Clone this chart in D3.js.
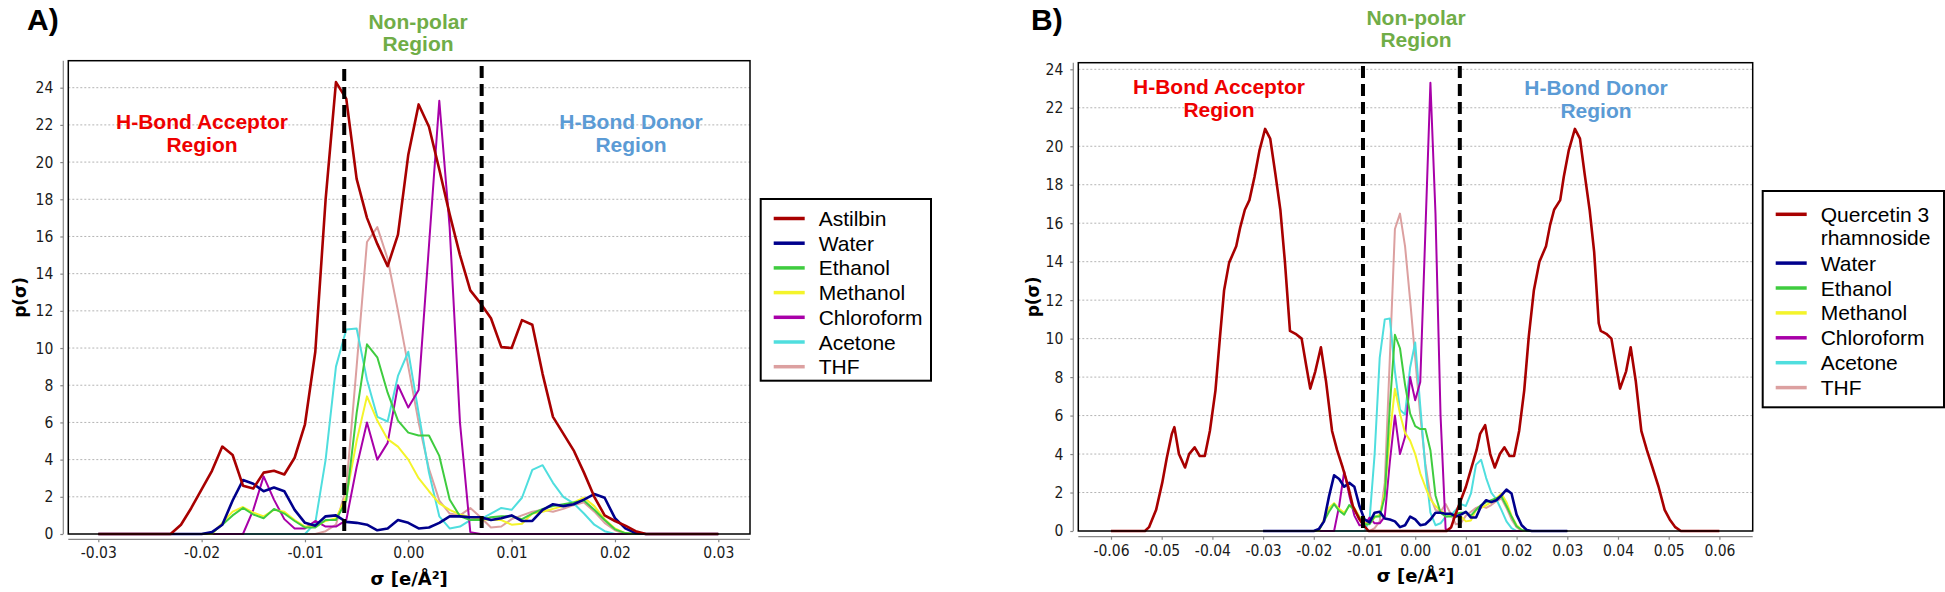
<!DOCTYPE html>
<html><head><meta charset="utf-8">
<script src="https://cdn.jsdelivr.net/npm/d3@7"></script>
<style>body{margin:0;background:#fff}svg{display:block}</style>
</head><body>
<svg id="c" width="1945" height="592"></svg>
<script>
// ---------------- DATA ----------------
const sigmaGrid = [-0.030,-0.029,-0.028,-0.027,-0.026,-0.025,-0.024,-0.023,-0.022,-0.021,
 -0.020,-0.019,-0.018,-0.017,-0.016,-0.015,-0.014,-0.013,-0.012,-0.011,
 -0.010,-0.009,-0.008,-0.007,-0.006,-0.005,-0.004,-0.003,-0.002,-0.001,
 0.000,0.001,0.002,0.003,0.004,0.005,0.006,0.007,0.008,0.009,
 0.010,0.011,0.012,0.013,0.014,0.015,0.016,0.017,0.018,0.019,
 0.020,0.021,0.022,0.023,0.024,0.025,0.026,0.027,0.028,0.029,0.030];

const astilbin = [0,0,0,0,0,0,0,0,0.5,1.4,
 2.4,3.4,4.7,4.25,2.6,2.45,3.3,3.4,3.2,4.1,
 5.9,9.8,18.0,24.3,23.4,19.1,17.0,15.6,14.4,16.1,
 20.4,23.1,21.9,19.6,17.2,15.0,13.1,12.4,11.6,10.05,
 10.0,11.5,11.25,8.6,6.3,5.4,4.5,3.3,2.0,1.0,
 0.7,0.45,0.15,0,0,0,0,0,0,0,0];

const water = [0,0,0,0,0,0,0,0,0,0,
 0,0.1,0.5,1.8,2.9,2.7,2.3,2.5,2.3,1.3,
 0.6,0.45,0.95,1.0,0.65,0.6,0.5,0.2,0.3,0.75,
 0.6,0.3,0.35,0.6,0.95,0.95,0.9,0.9,0.75,0.85,
 1.0,0.7,0.7,1.3,1.6,1.5,1.6,1.85,2.15,1.95,
 0.85,0.3,0.05,0,0,0,0,0,0,0,0];

const ethanol = [0,0,0,0,0,0,0,0,0,0,
 0,0.05,0.5,1.0,1.4,1.05,0.85,1.35,1.1,0.7,
 0.35,0.35,0.75,0.75,1.8,6.5,10.2,9.5,7.6,6.1,
 5.45,5.3,5.3,4.2,1.85,0.95,0.75,0.75,0.9,0.95,
 0.95,0.8,1.1,1.35,1.5,1.6,1.7,1.8,1.3,0.75,
 0.25,0.05,0,0,0,0,0,0,0,0,0];

const methanol = [0,0,0,0,0,0,0,0,0,0,
 0,0,0.6,1.2,1.45,1.15,0.95,1.3,1.2,0.75,
 0.4,0.4,0.7,0.85,2.0,5.0,7.4,6.1,5.1,4.7,
 4.0,3.0,2.3,1.65,1.3,1.05,0.9,0.8,0.75,0.75,
 0.5,0.55,1.1,1.2,1.35,1.5,1.7,1.95,1.5,0.8,
 0.3,0.05,0,0,0,0,0,0,0,0,0];

const chloroform = [0,0,0,0,0,0,0,0,0,0,
 0,0,0,0,0,1.3,3.1,1.85,0.8,0.3,
 0.3,0.7,0.4,0.4,0.75,3.6,6.0,4.0,4.9,8.0,
 6.8,7.75,15.5,23.3,16.5,6.0,0.1,0,0,0,
 0,0,0,0,0,0,0,0,0,0,
 0,0,0,0,0,0,0,0,0,0,0];

const acetone = [0,0,0,0,0,0,0,0,0,0,
 0,0,0,0,0,0,0,0,0,0,
 0,0.6,4.0,9.0,11.0,11.05,8.3,6.3,6.05,8.5,
 9.8,6.5,3.3,0.95,0.3,0.4,0.75,0.8,1.1,1.4,
 1.3,1.95,3.45,3.7,2.75,2.0,1.65,1.1,0.5,0.15,
 0,0,0,0,0,0,0,0,0,0,0];

const thf = [0,0,0,0,0,0,0,0,0,0,
 0,0,0,0,0,0,0,0,0,0,
 0,0,0.15,0.5,2.5,9.0,15.7,16.5,14.8,12.0,
 9.0,6.0,3.5,1.8,1.1,1.0,1.4,0.9,0.35,0.4,
 0.8,1.0,1.2,1.3,1.2,1.35,1.55,1.7,1.2,0.6,
 0.2,0,0,0,0,0,0,0,0,0,0];

// Quercetin 3 rhamnoside (panel B), vertices
const sigmaQuercetin = [-0.0600,-0.0533,-0.0525,-0.0511,-0.0499,-0.0490,-0.0480,-0.0475,-0.0466,-0.0454,
 -0.0446,-0.0435,-0.0425,-0.0415,-0.0405,-0.0394,-0.0385,-0.0377,-0.0367,-0.0353,
 -0.0345,-0.0336,-0.0327,-0.0317,-0.0307,-0.0296,-0.0286,-0.0276,-0.0266,-0.0257,
 -0.0247,-0.0236,-0.0224,-0.0215,-0.0207,-0.0197,-0.0186,-0.0176,-0.0164,-0.0154,
 -0.0143,-0.0132,-0.0123,-0.0111,-0.0102,-0.0092,
 0.0062,0.0071,0.0080,0.0090,0.0100,0.0111,0.0121,0.0128,0.0138,0.0148,
 0.0157,0.0167,0.0176,0.0186,0.0195,0.0205,0.0215,0.0224,0.0234,0.0245,
 0.0258,0.0266,0.0274,0.0286,0.0293,0.0303,0.0315,0.0325,0.0334,0.0344,
 0.0353,0.0362,0.0366,0.0377,0.0387,0.0396,0.0404,0.0416,0.0425,0.0435,
 0.0446,0.0457,0.0468,0.0480,0.0492,0.0502,0.0513,0.0524,0.0600];
const quercetin = [0,0,0.2,1.1,2.5,3.8,5.05,5.4,4.0,3.3,
 4.0,4.35,3.9,3.9,5.2,7.3,10.1,12.5,13.95,14.8,
 15.8,16.7,17.2,18.4,19.8,20.9,20.4,18.6,16.7,14.0,
 10.4,10.25,10.0,8.6,7.4,8.3,9.55,7.8,5.2,4.2,
 3.3,2.3,1.3,0.65,0.3,0,
 0,0.2,0.9,1.6,2.3,3.3,4.2,5.05,5.5,4.0,
 3.3,4.0,4.35,3.9,3.9,5.2,7.3,10.1,12.5,14.0,
 14.8,15.9,16.7,17.2,18.4,19.8,20.9,20.4,18.6,16.7,
 14.5,10.8,10.4,10.25,10.0,8.6,7.4,8.3,9.55,7.8,
 5.2,4.2,3.3,2.3,1.1,0.6,0.2,0,0];

const solventNames = ["Water","Ethanol","Methanol","Chloroform","Acetone","THF"];
const solventValues = [water, ethanol, methanol, chloroform, acetone, thf];
const solventColors = ["#00008c","#3fcc3f","#f4f42a","#a800a8","#4fdede","#dca0a0"];
const soluteColor = "#a80000";

const yTicks = [0,2,4,6,8,10,12,14,16,18,20,22,24];
const xTicksA = [-0.03,-0.02,-0.01,0.00,0.01,0.02,0.03];
const xTickLabelsA = ["-0.03","-0.02","-0.01","0.00","0.01","0.02","0.03"];
const xTicksB = [-0.06,-0.05,-0.04,-0.03,-0.02,-0.01,0.00,0.01,0.02,0.03,0.04,0.05,0.06];
const xTickLabelsB = ["-0.06","-0.05","-0.04","-0.03","-0.02","-0.01","0.00","0.01","0.02","0.03","0.04","0.05","0.06"];
const regionBoundsA = [-0.0062, 0.0071];
const regionBoundsB = [-0.0103, 0.0088];

// ---------------- DRAW ----------------
const svg = d3.select("#c");
const tickFont = "'DejaVu Sans Condensed', 'DejaVu Sans', sans-serif";
const titleFont = "'DejaVu Sans', sans-serif";
const annFont = "'Liberation Sans', Arial, sans-serif";

function drawPanel(cfg) {
  const g = svg.append("g");
  const x = d3.scaleLinear().domain(cfg.xDomain).range(cfg.xRange);
  const y = d3.scaleLinear().domain([0, 24]).range(cfg.yRange);
  const fl = cfg.frameLeft, fr = cfg.frameRight, ft = cfg.frameTop, fb = y(0);

  // grid
  g.append("g").selectAll("line").data(yTicks.filter(v => v > 0)).join("line")
    .attr("x1", fl).attr("x2", fr).attr("y1", d => y(d)).attr("y2", d => y(d))
    .attr("stroke", "#b4b4b4").attr("stroke-width", 1).attr("stroke-dasharray", "2,2");

  // y axis
  const ya = g.append("g").attr("transform", `translate(${cfg.yAxisX},0)`)
    .call(d3.axisLeft(y).tickValues(yTicks).tickSize(3).tickPadding(7).tickFormat(d3.format("d")));
  ya.select(".domain").remove();
  ya.append("line").attr("x1", 0).attr("x2", 0).attr("y1", ft).attr("y2", fb).attr("stroke", "#888").attr("stroke-width", 1.2);
  ya.selectAll(".tick line").attr("stroke", "#888").attr("stroke-width", 1.2);
  ya.selectAll(".tick text").attr("font-family", tickFont).attr("font-size", 15.5).attr("fill", "#1a1a1a");

  // x axis
  const xa = g.append("g").attr("transform", `translate(0,${cfg.xAxisY})`)
    .call(d3.axisBottom(x).tickValues(cfg.xTicks).tickSize(3).tickPadding(5)
      .tickFormat((d, i) => cfg.xTickLabels[i]));
  xa.select(".domain").remove();
  xa.append("line").attr("x1", fl).attr("x2", fr).attr("y1", 0).attr("y2", 0).attr("stroke", "#888").attr("stroke-width", 1.2);
  xa.selectAll(".tick line").attr("stroke", "#888").attr("stroke-width", 1.2);
  xa.selectAll(".tick text").attr("font-family", tickFont).attr("font-size", 15.5).attr("fill", "#1a1a1a");

  // series (reverse legend order so the solute ends on top)
  const series = cfg.series.slice().reverse();
  g.append("g").selectAll("path").data(series).join("path")
    .attr("fill", "none")
    .attr("stroke", d => d.color)
    .attr("stroke-width", d => d.width)
    .attr("stroke-linejoin", "round")
    .attr("d", d => d3.line().x((v, i) => x(d.sigma[i])).y(v => y(v))(d.values));

  // frame
  g.append("rect").attr("x", fl).attr("y", ft).attr("width", fr - fl).attr("height", fb - ft)
    .attr("fill", "none").attr("stroke", "#000").attr("stroke-width", 1.5);

  // region boundaries
  g.append("g").selectAll("line").data(cfg.bounds).join("line")
    .attr("x1", d => x(d)).attr("x2", d => x(d))
    .attr("y1", (d, i) => cfg.boundTop[i]).attr("y2", fb)
    .attr("stroke", "#000").attr("stroke-width", 4).attr("stroke-dasharray", "12,6");

  // axis titles
  g.append("text").attr("x", (fl + fr) / 2).attr("y", cfg.xTitleY)
    .attr("text-anchor", "middle").attr("dominant-baseline", "central")
    .attr("font-family", titleFont).attr("font-weight", "bold").attr("font-size", 18)
    .text("σ [e/Å²]");
  g.append("text").attr("transform", `translate(${cfg.yTitleX},${(ft + fb) / 2}) rotate(-90)`)
    .attr("text-anchor", "middle").attr("dominant-baseline", "central")
    .attr("font-family", titleFont).attr("font-weight", "bold").attr("font-size", 17)
    .text("p(σ)");

  // panel letter
  g.append("text").attr("x", cfg.letterX).attr("y", 30)
    .attr("font-family", annFont).attr("font-weight", "bold").attr("font-size", 30)
    .text(cfg.letter);

  // region annotations
  const ann = (txt, cx, cy, col) => g.append("text").attr("x", cx).attr("y", cy)
    .attr("text-anchor", "middle").attr("dominant-baseline", "central")
    .attr("font-family", annFont).attr("font-weight", "bold").attr("font-size", 21)
    .attr("fill", col).text(txt);
  ann("Non-polar", cfg.np[0], cfg.np[1], "#70ad47");
  ann("Region", cfg.np[0], cfg.np[1] + 22, "#70ad47");
  ann("H-Bond Acceptor", cfg.acc[0], cfg.acc[1], "#ee0000");
  ann("Region", cfg.acc[0], cfg.acc[1] + 23, "#ee0000");
  ann("H-Bond Donor", cfg.don[0], cfg.don[1], "#5b9bd5");
  ann("Region", cfg.don[0], cfg.don[1] + 23, "#5b9bd5");

  // legend
  const lg = g.append("g");
  lg.append("rect").attr("x", cfg.legend.x).attr("y", cfg.legend.y)
    .attr("width", cfg.legend.w).attr("height", cfg.legend.h)
    .attr("fill", "#fff").attr("stroke", "#000").attr("stroke-width", 2);
  let rowY = cfg.legend.firstRow;
  cfg.series.forEach(s => {
    lg.append("line").attr("x1", cfg.legend.x + 13).attr("x2", cfg.legend.x + 44)
      .attr("y1", rowY).attr("y2", rowY).attr("stroke", s.color).attr("stroke-width", 3.5);
    s.label.forEach((t, k) => {
      lg.append("text").attr("x", cfg.legend.x + 58).attr("y", rowY + k * 23.5)
        .attr("dominant-baseline", "central").attr("font-family", annFont)
        .attr("font-size", 21).attr("fill", "#000").text(t);
    });
    rowY += cfg.legend.step * s.label.length + (s.label.length > 1 ? -1 : 0);
  });
}

const solventSeries = solventNames.map((n, i) => ({
  label: [n], color: solventColors[i], sigma: sigmaGrid, values: solventValues[i], width: i === 0 ? 2.6 : 2
}));

drawPanel({
  letter: "A)", letterX: 27,
  xDomain: [-0.03, 0.03], xRange: [98.3, 718.3], yRange: [534, 87.7],
  frameLeft: 68.3, frameRight: 750, frameTop: 60.7,
  yAxisX: 63.3, xAxisY: 539.3, xTitleY: 578, yTitleX: 19.5,
  xTicks: xTicksA, xTickLabels: xTickLabelsA,
  bounds: regionBoundsA, boundTop: [69, 66],
  np: [418, 21], acc: [202, 121], don: [631, 121],
  legend: { x: 760.7, y: 199, w: 170.3, h: 181.7, firstRow: 218.5, step: 24.7 },
  series: [{ label: ["Astilbin"], color: soluteColor, sigma: sigmaGrid, values: astilbin, width: 2.6 }].concat(solventSeries)
});

drawPanel({
  letter: "B)", letterX: 1031,
  xDomain: [-0.06, 0.06], xRange: [1111, 1719.4], yRange: [531, 69.3],
  frameLeft: 1078.3, frameRight: 1752.7, frameTop: 62.7,
  yAxisX: 1073.3, xAxisY: 536.7, xTitleY: 575, yTitleX: 1033,
  xTicks: xTicksB, xTickLabels: xTickLabelsB,
  bounds: regionBoundsB, boundTop: [66, 66],
  np: [1416, 17], acc: [1219, 86.5], don: [1596, 87.5],
  legend: { x: 1762.7, y: 191, w: 181.3, h: 216.3, firstRow: 214.3, step: 24.9 },
  series: [{ label: ["Quercetin 3", "rhamnoside"], color: soluteColor, sigma: sigmaQuercetin, values: quercetin, width: 2.6 }].concat(solventSeries)
});
</script>
</body></html>
